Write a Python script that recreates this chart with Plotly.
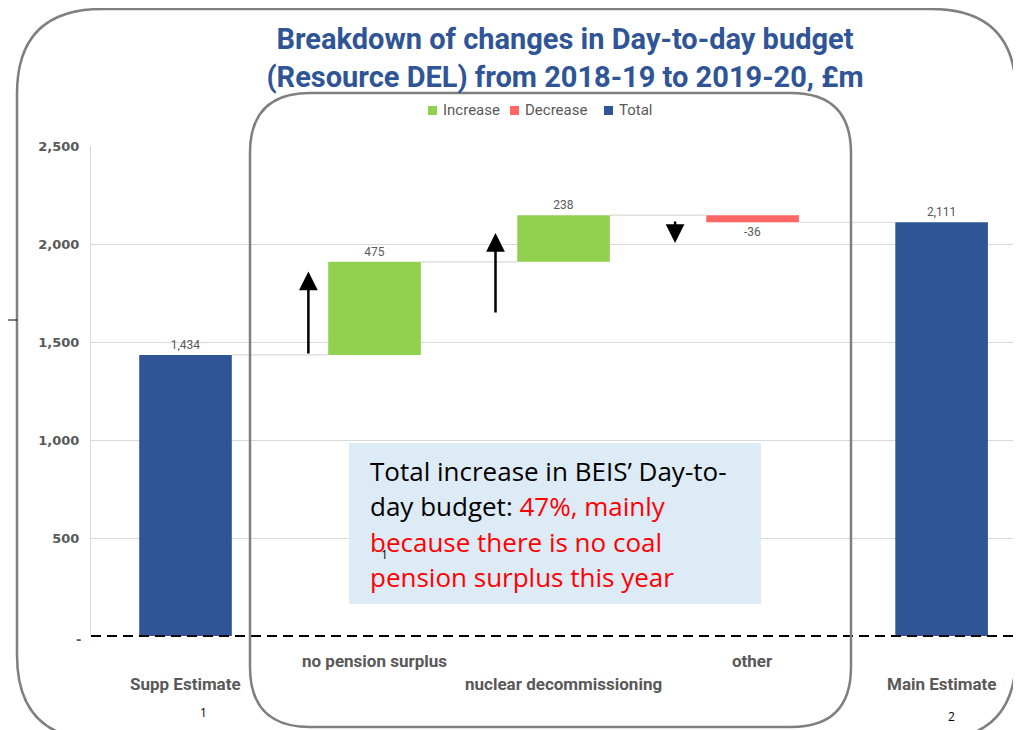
import plotly.graph_objects as go

categories = ["Supp Estimate", "no pension surplus", "nuclear decommissioning", "other", "Main Estimate"]
kinds = ["total", "increase", "increase", "decrease", "total"]
values = [1434, 475, 238, -36, 2111]
y_ticks = [0, 500, 1000, 1500, 2000, 2500]
y_tick_labels = ["", "500", "1,000", "1,500", "2,000", "2,500"]
legend_names = {"increase": "Increase", "decrease": "Decrease", "total": "Total"}

COLORS = {"increase": "#92D050", "decrease": "#FF6666", "total": "#2F5597"}
GREY = "#595959"
GRID = "#D9D9D9"
NARROW = "Roboto, Open Sans, sans-serif"
BODY = "Open Sans, Noto Sans, sans-serif"

# the page body adds an 8px margin, so work in screen pixels and shift
OFF = 8
FIG_W, FIG_H = 1021 - OFF, 730 - OFF
L, T, W, H = 91, 146, 930, 490  # plot area in screen pixels


def px(x):
    return (x - L) / W


def py(y):
    return (T + H - y) / H


def rounded_path(x0, y0, x1, y1, r):
    pts = [
        ("M", [(x0 + r, y0)]), ("L", [(x1 - r, y0)]), ("Q", [(x1, y0), (x1, y0 + r)]),
        ("L", [(x1, y1 - r)]), ("Q", [(x1, y1), (x1 - r, y1)]), ("L", [(x0 + r, y1)]),
        ("Q", [(x0, y1), (x0, y1 - r)]), ("L", [(x0, y0 + r)]), ("Q", [(x0, y0), (x0 + r, y0)]),
    ]
    out = []
    for cmd, ps in pts:
        out.append(cmd + " " + " ".join(f"{px(a):.5f},{py(b):.5f}" for a, b in ps))
    return " ".join(out)


# running totals for the waterfall
bases, heights, ends = [], [], []
running = 0
for k, v in zip(kinds, values):
    if k == "total":
        bases.append(0)
        heights.append(v)
        running = v
    else:
        bases.append(running)
        heights.append(v)
        running += v
    ends.append(running)

fig = go.Figure()
for kind in ["increase", "decrease", "total"]:
    idx = [i for i, k in enumerate(kinds) if k == kind]
    fig.add_trace(go.Bar(
        x=idx, y=[heights[i] for i in idx], base=[bases[i] for i in idx],
        name=legend_names[kind], marker=dict(color=COLORS[kind], line=dict(width=0)),
        width=0.49, text=[f"{values[i]:,}" for i in idx], textposition="outside",
        outsidetextfont=dict(size=12, color=GREY, family=NARROW), cliponaxis=False,
        showlegend=False,
    ))

shapes = []
annotations = []

# connector lines
for i in range(len(values) - 1):
    shapes.append(dict(type="line", xref="x", yref="y", x0=i + 0.245, x1=i + 1 - 0.245,
                       y0=ends[i], y1=ends[i], line=dict(color=GRID, width=1.2), layer="below"))

# legend drawn by hand (compact, like the original)
for kind, sx, tx in [("increase", 428, 441), ("decrease", 510, 523), ("total", 604, 617)]:
    shapes.append(dict(type="rect", xref="paper", yref="paper", x0=px(sx), x1=px(sx + 9),
                       y0=py(115), y1=py(106), fillcolor=COLORS[kind], line=dict(width=0)))
    annotations.append(dict(text=legend_names[kind], x=px(tx), y=py(110), xref="paper", yref="paper",
                            xanchor="left", yanchor="middle", showarrow=False,
                            font=dict(size=15, color=GREY, family=NARROW)))

# dashed zero line
shapes.append(dict(type="line", xref="paper", yref="paper", x0=0, x1=1, y0=0, y1=0,
                   line=dict(color="black", width=2, dash="10px,6px")))
# text box
shapes.append(dict(type="rect", xref="paper", yref="paper", x0=px(349), x1=px(761), y0=py(604), y1=py(443),
                   fillcolor="#DDEBF7", line=dict(width=0)))
# rounded frames
shapes.append(dict(type="path", xref="paper", yref="paper", path=rounded_path(17, 9, 1016, 740, 85),
                   line=dict(color="#7F7F7F", width=2.5)))
shapes.append(dict(type="path", xref="paper", yref="paper", path=rounded_path(250, 93, 851, 727, 60),
                   line=dict(color="#7F7F7F", width=2.5)))
# small stray line at left edge
shapes.append(dict(type="line", xref="paper", yref="paper", x0=px(8), x1=px(17), y0=py(320), y1=py(320),
                   line=dict(color="black", width=1)))

# staggered category labels
for i, name in enumerate(categories):
    row = 661 if i % 2 else 684
    annotations.append(dict(text=f"<b>{name}</b>", x=i, xref="x", y=py(row), yref="paper",
                            yanchor="middle", showarrow=False, font=dict(size=17, color=GREY, family=NARROW)))
annotations.append(dict(text="<b>-</b>", x=px(78), y=py(639), xref="paper", yref="paper",
                        xanchor="center", yanchor="middle", showarrow=False,
                        font=dict(size=13, color=GREY, family="DejaVu Sans")))

# arrows
for xh, yh, yt in [(0.65, 1860, 1434), (1.64, 2056, 1643), (2.59, 2005, 2122)]:
    annotations.append(dict(x=xh, y=yh, ax=xh, ay=yt, xref="x", yref="y", axref="x", ayref="y",
                            text="", showarrow=True, arrowhead=2, arrowsize=1.5, arrowwidth=2.5,
                            arrowcolor="black"))

# call-out text
red = "#FF0000"
lines = [
    "Total increase in BEIS’ Day-to-",
    f"day budget: <span style='color:{red}'>47%, mainly</span>",
    f"<span style='color:{red}'>because there is no coal</span>",
    f"<span style='color:{red}'>pension surplus this year</span>",
]
for j, ln in enumerate(lines):
    annotations.append(dict(text=ln, x=px(368), y=py(471 + 35.3 * j), xref="paper", yref="paper",
                            xanchor="left", yanchor="middle", showarrow=False, align="left",
                            font=dict(size=26, color="black", family=BODY)))

# page numbers
for txt, x, y in [("1", 203, 712), ("2", 951, 716), ("1", 384, 554)]:
    annotations.append(dict(text=txt, x=px(x), y=py(y), xref="paper", yref="paper", showarrow=False,
                            xanchor="center", yanchor="middle", font=dict(size=12, color="black", family=BODY)))

fig.update_layout(
    width=FIG_W, height=FIG_H,
    margin=dict(l=L - OFF, r=FIG_W - (L - OFF) - W, t=T - OFF, b=FIG_H - (T - OFF) - H, autoexpand=False),
    paper_bgcolor="white", plot_bgcolor="white",
    barmode="overlay", showlegend=False,
    title=dict(text="<b>Breakdown of changes in Day-to-day budget<br>(Resource DEL) from 2018-19 to 2019-20, £m</b>",
               x=(565 - OFF) / FIG_W, xanchor="center", y=1 - 41 / FIG_H, yanchor="middle", automargin=False,
               font=dict(size=29, color="#2F5597", family=NARROW)),
    xaxis=dict(range=[-0.5, 4.42], showticklabels=False, showgrid=False, zeroline=False, fixedrange=True,
               automargin=False),
    yaxis=dict(range=[0, 2500], tickvals=y_ticks, ticktext=[f"<b>{t}</b>" for t in y_tick_labels],
               showgrid=True, gridcolor=GRID, gridwidth=1, zeroline=False, showline=True,
               linecolor=GRID, linewidth=1, automargin=False,
               tickfont=dict(size=13, color=GREY, family="DejaVu Sans"), ticklabelstandoff=8),
    shapes=shapes, annotations=annotations,
)

fig.write_html("out.html")
